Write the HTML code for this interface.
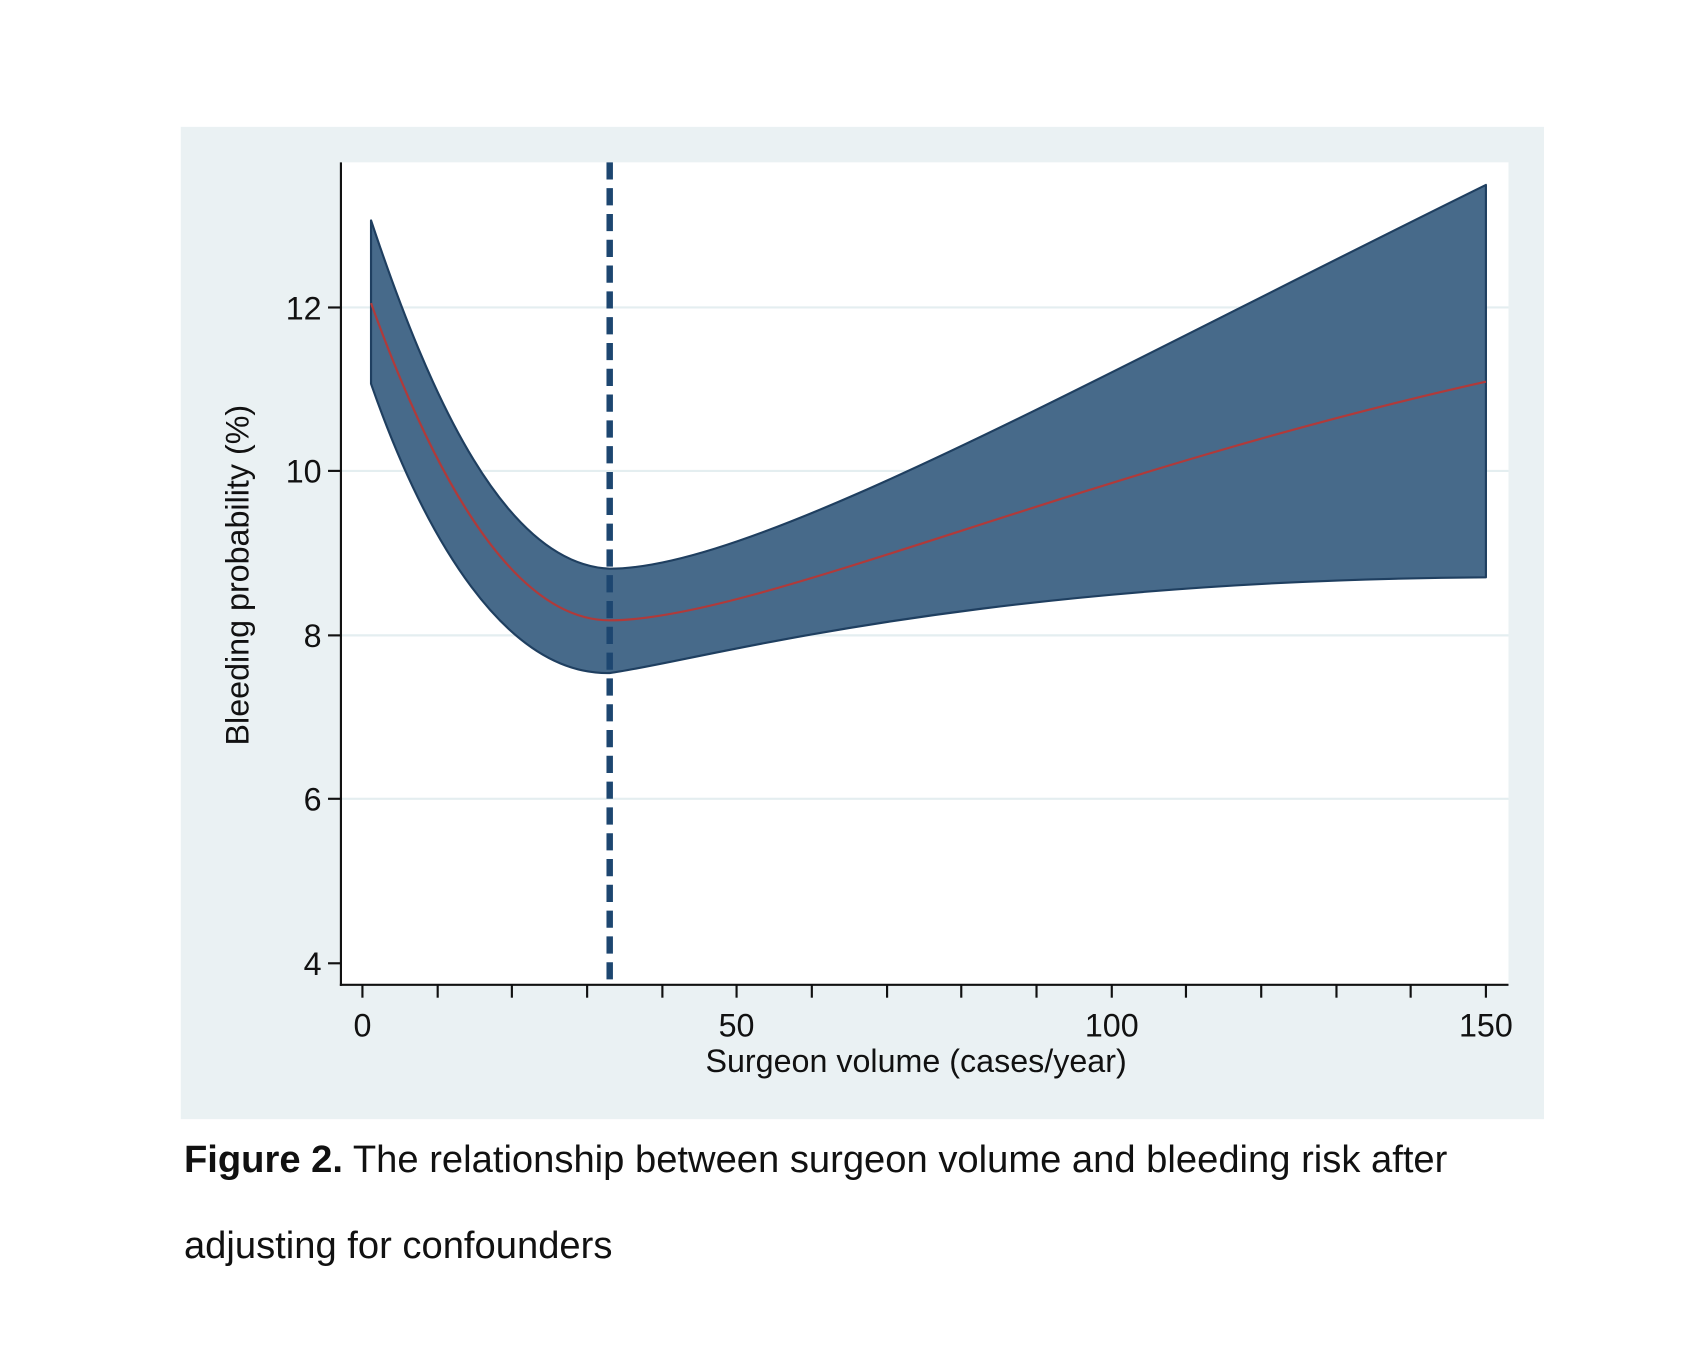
<!DOCTYPE html>
<html><head><style>
html,body{margin:0;padding:0;background:#fff;}
svg{display:block;}
text{font-family:"Liberation Sans",Arial,sans-serif;fill:#111;}
</style></head><body>
<svg width="1686" height="1360" viewBox="0 0 1568 1265" xmlns="http://www.w3.org/2000/svg">
<rect x="0" y="0" width="1568" height="1265" fill="#fff"/>
<rect x="168" y="118" width="1268" height="923" fill="#eaf1f3"/>
<rect x="317" y="151" width="1086" height="765" fill="#fff"/>
<g stroke="#e4eef0" stroke-width="2">
<line x1="317" y1="286" x2="1403" y2="286"/>
<line x1="317" y1="438" x2="1403" y2="438"/>
<line x1="317" y1="591" x2="1403" y2="591"/>
<line x1="317" y1="743" x2="1403" y2="743"/>
</g>
<path d="M345,205 C400,370 470,525 567,529 C700,529 1000,360 1382,172 L1382,537 C900,540 650,615 567,626 C470,628 395,500 345,357 Z" fill="#476a8a" stroke="#1f3f60" stroke-width="2" stroke-linejoin="round"/>
<path d="M345,282 C395,420 470,577 567,577 C700,577 1000,440 1382,355" fill="none" stroke="#b03a3a" stroke-width="2"/>
<line x1="567" y1="151" x2="567" y2="916" stroke="#1d4670" stroke-width="6" stroke-dasharray="16,8"/>
<g stroke="#111" stroke-width="2">
<line x1="317" y1="151" x2="317" y2="917"/>
<line x1="316" y1="916" x2="1403" y2="916"/>
<line x1="305" y1="286" x2="317" y2="286"/>
<line x1="305" y1="438" x2="317" y2="438"/>
<line x1="305" y1="591" x2="317" y2="591"/>
<line x1="305" y1="743" x2="317" y2="743"/>
<line x1="305" y1="896" x2="317" y2="896"/>
<line x1="337" y1="916" x2="337" y2="928"/><line x1="407" y1="916" x2="407" y2="928"/><line x1="476" y1="916" x2="476" y2="928"/><line x1="546" y1="916" x2="546" y2="928"/><line x1="616" y1="916" x2="616" y2="928"/><line x1="685" y1="916" x2="685" y2="928"/><line x1="755" y1="916" x2="755" y2="928"/><line x1="825" y1="916" x2="825" y2="928"/><line x1="894" y1="916" x2="894" y2="928"/><line x1="964" y1="916" x2="964" y2="928"/><line x1="1034" y1="916" x2="1034" y2="928"/><line x1="1103" y1="916" x2="1103" y2="928"/><line x1="1173" y1="916" x2="1173" y2="928"/><line x1="1243" y1="916" x2="1243" y2="928"/><line x1="1312" y1="916" x2="1312" y2="928"/><line x1="1382" y1="916" x2="1382" y2="928"/>
</g>
<g font-size="30" text-anchor="end">
<text x="299" y="297">12</text>
<text x="299" y="449">10</text>
<text x="299" y="602">8</text>
<text x="299" y="754">6</text>
<text x="299" y="907">4</text>
</g>
<g font-size="30" text-anchor="middle">
<text x="337" y="964">0</text>
<text x="685" y="964">50</text>
<text x="1034" y="964">100</text>
<text x="1382" y="964">150</text>
<text x="852" y="997">Surgeon volume (cases/year)</text>
<text transform="translate(231,535) rotate(-90)">Bleeding probability (%)</text>
</g>
<text x="171" y="1090" font-size="35.5"><tspan font-weight="bold">Figure 2.</tspan> The relationship between surgeon volume and bleeding risk after</text>
<text x="171" y="1170" font-size="35.5">adjusting for confounders</text>
</svg>
</body></html>
